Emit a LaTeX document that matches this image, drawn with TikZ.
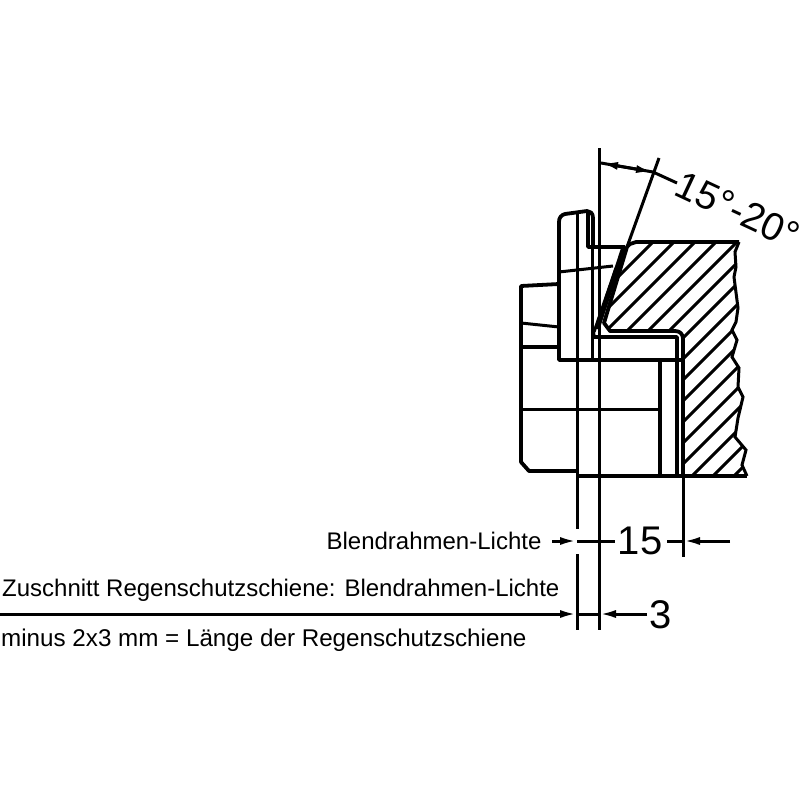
\documentclass[tikz,border=0pt]{standalone}
\usepackage{fontspec}
\setmainfont{Liberation Sans}
\usetikzlibrary{arrows.meta}

\begin{document}
\begin{tikzpicture}[x=1pt, y=-1pt,
  outline/.style={line width=3.8pt, line join=round},
  thin part/.style={line width=3pt},
  hatch/.style={line width=2.9pt},
  dim/.style={line width=3pt},
  tip/.style={dim, -{Latex[length=17pt,width=8pt]}},
  small label/.style={font=\fontsize{24}{24}\selectfont, inner sep=0pt},
  big label/.style={font=\fontsize{40}{40}\selectfont, inner sep=0pt}]
  \useasboundingbox (0,0) rectangle (800,800);

  % hatched section
  \begin{scope}
    \clip (633,242) -- (739,242) -- (735,252) -- (736,267) -- (734,277) -- (738,308)
      -- (736,322) -- (732,330) -- (737,340) -- (732,357) -- (739,368) -- (738,387)
      -- (743,397) -- (738,418) -- (735,437) -- (746,450) -- (742,465) -- (747,476)
      -- (684,476) -- (684,337) -- (677,331) -- (610,331) -- (602,325) -- (627,247) -- cycle;
    \foreach \c in {895,916,...,1210}
      \draw [hatch] (\c-200,200) -- (\c-500,500);
  \end{scope}
  \draw [thin part] (739,242) -- (735,252) -- (736,267) -- (734,277) -- (738,308)
    -- (736,322) -- (732,330) -- (737,340) -- (732,357) -- (739,368) -- (738,387)
    -- (743,397) -- (738,418) -- (735,437) -- (746,450) -- (742,465) -- (747,476);
  \draw [outline] (739,242) -- (636,242) -- (630,244) -- (627,247) -- (604,323) -- (610,331)
    -- (675,331) .. controls (680,331) and (683,334) .. (683,339) -- (683,476);

  % sealing strip
  \draw [line width=5pt] (624,247) -- (597,329);
  \draw [thin part] (616,268) -- (594,332);

  % cover and knob
  \draw [outline] (593,247) -- (593,218) .. controls (593,213) and (590,211) .. (587,211) -- (565,214)
    .. controls (561,215) and (559,218) .. (559,222) -- (559,360) -- (684,360);
  \draw [outline] (588,213) -- (588,247) -- (625,247);
  \draw [thin part] (559,272) -- (613,266);
  \draw [outline] (559,284) -- (521,286) -- (521,462) -- (529,471) -- (577,471);
  \draw [thin part] (521,323) -- (559,327);
  \draw [outline] (521,347) -- (559,347);
  \draw [thin part] (521,409) -- (660,409);
  \draw [thin part] (592,247) -- (592,358);
  \draw [outline] (660,360) -- (660,476);
  \draw [outline] (593,332) -- (594,337) -- (677,337) -- (677,476);
  \draw [outline] (577,476) -- (747,476);

  % extension lines
  \coordinate (refTop) at (599,148);
  \coordinate (refBottom) at (599,630);
  \coordinate (leftTop) at (577,214);
  \coordinate (leftGapA) at (577,529);
  \coordinate (leftGapB) at (577,554);
  \coordinate (leftBottom) at (577,630);
  \coordinate (rightTop) at (683,476);
  \coordinate (rightBottom) at (683,557);
  \coordinate (slantTop) at (659,158);
  \coordinate (slantBottom) at (627,247);
  \draw [thin part] (refTop) -- (refBottom);
  \draw [thin part] (leftTop) -- (leftGapA);
  \draw [thin part] (leftGapB) -- (leftBottom);
  \draw [thin part] (rightTop) -- (rightBottom);
  \draw [thin part] (slantTop) -- (slantBottom);

  % labels
  \node [small label] (lichte) at (434,541) {Blendrahmen-Lichte};
  \node [small label, anchor=west] (zuschnitt) at (2,590) {Zuschnitt Regenschutzschiene: Blendrahmen-Lichte};
  \node [small label, font=\fontsize{24.2}{24.2}\selectfont, anchor=west] (laenge) at (1,640) {minus 2x3 mm = Länge der Regenschutzschiene};
  \node [big label] (fifteen) at (640,541) {15};
  \node [big label] (three) at (661,615) {3};
  \node [big label, font=\fontsize{39}{39}\selectfont, rotate=-25] (angle) at (738,210) {15°-20°};

  % dimension lines
  \coordinate (fifteenA) at (552,541);
  \coordinate (fifteenB) at (577,541);
  \coordinate (fifteenC) at (615,541);
  \coordinate (fifteenD) at (667,541);
  \coordinate (fifteenE) at (683,541);
  \coordinate (fifteenF) at (730,541);
  \draw [tip] (fifteenA) -- (fifteenB);
  \draw [dim] (fifteenB) -- (fifteenC);
  \draw [dim] (fifteenD) -- (fifteenE);
  \draw [tip] (fifteenF) -- (fifteenE);
  \coordinate (threeA) at (0,614);
  \coordinate (threeB) at (577,614);
  \coordinate (threeC) at (599,614);
  \coordinate (threeD) at (647,614);
  \draw [tip] (threeA) -- (threeB);
  \draw [dim] (threeB) -- (threeC);
  \draw [tip] (threeD) -- (threeC);
  \coordinate (angleA) at (601,163);
  \coordinate (angleB) at (653,172);
  \coordinate (angleC) at (677,183);
  \draw [tip] (angleB) -- (angleA);
  \draw [tip] (angleA) -- (angleB);
  \draw [dim] (angleB) -- (angleC);
\end{tikzpicture}
\end{document}
